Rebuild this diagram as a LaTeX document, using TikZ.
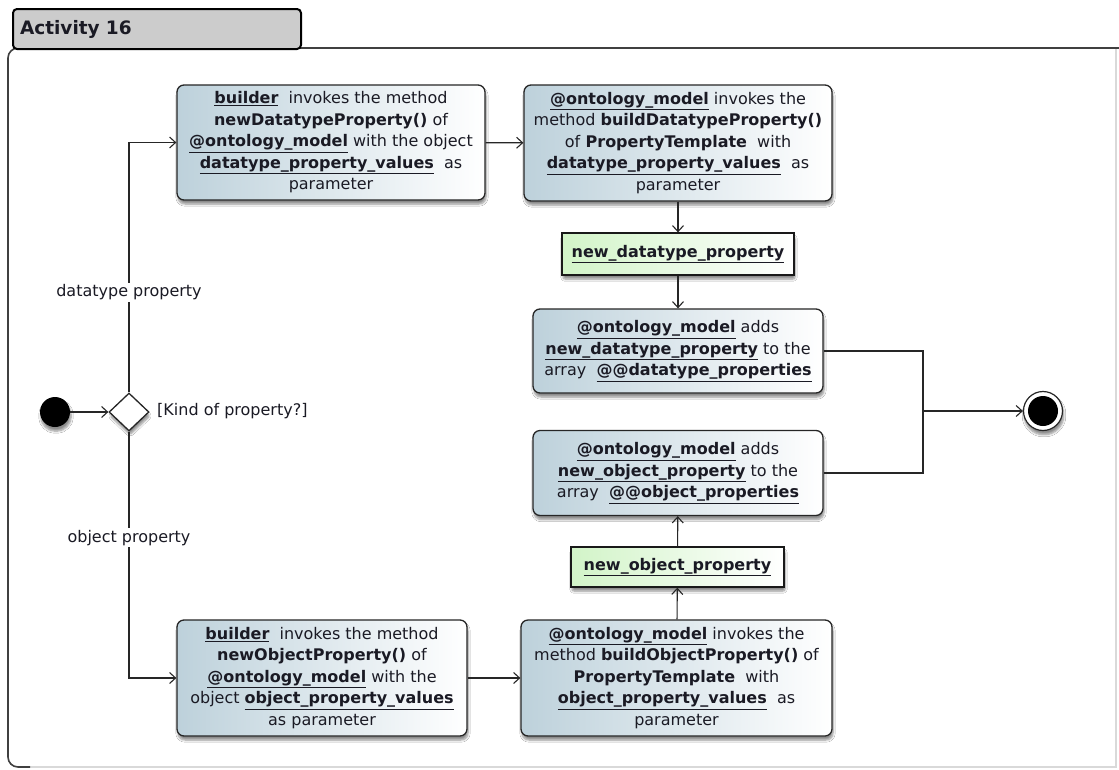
\documentclass[tikz,border=0pt]{standalone}
\usepackage{fontspec}
\setmainfont{DejaVu Sans}
\usetikzlibrary{arrows.meta,shapes.geometric,shadows.blur}

\definecolor{boxleft}{HTML}{BDD1DB}
\definecolor{greenleft}{HTML}{D2F4C8}
\definecolor{ink}{HTML}{1A1A24}
\definecolor{tabgray}{HTML}{CCCCCC}

\newcommand{\uname}[1]{\underline{\textbf{#1}}}
\newcommand{\boxfont}{\fontsize{16}{21.5}\selectfont}

\tikzset{
  softshadow/.style={blur shadow={shadow xshift=1pt, shadow yshift=-4pt,
      shadow blur steps=6, shadow blur extra rounding=2pt, shadow opacity=45}},
  action/.style={rounded corners=7pt, draw=black!85, line width=1.3pt,
      left color=boxleft, right color=white, align=center, inner sep=0pt,
      text=ink, font=\boxfont, softshadow},
  objnode/.style={draw=black!90, line width=1.3pt, left color=greenleft,
      right color=white, align=center, inner sep=0pt, text=ink,
      font=\boxfont, softshadow},
  flow/.style={draw=black!85, line width=1.1pt,
      -{Straight Barb[length=6pt,width=11pt,line width=1.1pt]}},
  link/.style={draw=black!85, line width=1.1pt},
  guard/.style={font=\boxfont, text=ink, fill=white, inner sep=2pt},
}

\begin{document}
\begin{tikzpicture}[x=1pt,y=-1pt]
\useasboundingbox (0,0) rectangle (1119,769);

% activity frame
\fill[white] (0,0) rectangle (1119,769);
\draw[black!15, line width=1.5pt] (1116,48) -- (1116,767) -- (20,767);
\draw[black!75, line width=1.6pt, rounded corners=10pt]
  (1125,48) -- (8,48) -- (8,767) -- (30,767);
\node[draw=black, line width=2pt, fill=tabgray, rounded corners=4pt,
  anchor=north west, minimum width=288pt, minimum height=40pt,
  text width=274pt, align=left, inner sep=0pt,
  font=\fontsize{18.5}{22}\selectfont\bfseries, text=ink] (title) at (12,8)
  {Activity 16};

% start, decision, end
\node[circle, fill=black, minimum size=30pt, inner sep=0pt, softshadow]
  (start) at (55,412) {};
\node[diamond, draw=black!85, line width=1.3pt, fill=white, inner sep=0pt,
  minimum width=40pt, minimum height=38pt, softshadow] (dec) at (129,412) {};
\node[anchor=west, font=\boxfont, text=ink, inner sep=0pt]
  (kind) at (157,411) {[Kind of property?]};
\node[circle, draw=black!85, line width=1.2pt, fill=white, minimum size=39pt,
  inner sep=0pt, softshadow] (final) at (1043,411) {};
\fill[black] (final.center) circle[radius=15pt];

% datatype branch
\node[action, minimum width=308pt, minimum height=115pt] (adt) at (331,142.5)
  {\uname{builder}\ \ invokes the method\\
   \textbf{newDatatypeProperty()} of\\
   \uname{@ontology\_model} with the object\\
   \uname{datatype\_property\_values}\ \ as\\
   parameter};
\node[action, minimum width=308pt, minimum height=116pt] (bdt) at (678,143)
  {\uname{@ontology\_model} invokes the\\
   method \textbf{buildDatatypeProperty()}\\
   of \textbf{PropertyTemplate}\ \ with\\
   \uname{datatype\_property\_values}\ \ as\\
   parameter};
\node[objnode, minimum width=232pt, minimum height=42pt] (ndt) at (678,254)
  {\uname{new\_datatype\_property}};
\node[action, minimum width=290pt, minimum height=84pt] (cdt) at (678,351)
  {\uname{@ontology\_model} adds\\
   \uname{new\_datatype\_property} to the\\
   array\ \ \uname{@@datatype\_properties}};

% object branch
\node[action, minimum width=290pt, minimum height=116pt] (aob) at (322,678)
  {\uname{builder}\ \ invokes the method\\
   \textbf{newObjectProperty()} of\\
   \uname{@ontology\_model} with the\\
   object \uname{object\_property\_values}\\
   as parameter};
\node[action, minimum width=311pt, minimum height=116pt] (bob) at (676.5,678)
  {\uname{@ontology\_model} invokes the\\
   method \textbf{buildObjectProperty()} of\\
   \textbf{PropertyTemplate}\ \ with\\
   \uname{object\_property\_values}\ \ as\\
   parameter};
\node[objnode, minimum width=213pt, minimum height=40pt] (nob) at (677.5,567)
  {\uname{new\_object\_property}};
\node[action, minimum width=290pt, minimum height=85pt] (cob) at (678,473)
  {\uname{@ontology\_model} adds\\
   \uname{new\_object\_property} to the\\
   array\ \ \uname{@@object\_properties}};

% control flow
\draw[flow] (start) -- (dec);
\draw[flow] (dec.north) |- node[guard, pos=0.2] {datatype property} (adt.west);
\draw[flow] (dec.south) |- node[guard, pos=0.215] {object property} (aob.west);
\draw[flow] (adt) -- (bdt);
\draw[flow] (bdt) -- (ndt);
\draw[flow] (ndt) -- (cdt);
\draw[flow] (aob) -- (bob);
\draw[flow] (bob) -- (nob);
\draw[flow] (nob) -- (cob);

% merge into the final node
\coordinate (merge) at (923,411);
\draw[link] (cdt.east) -| (merge) |- (cob.east);
\draw[flow] (merge) -- (final);
\end{tikzpicture}
\end{document}
